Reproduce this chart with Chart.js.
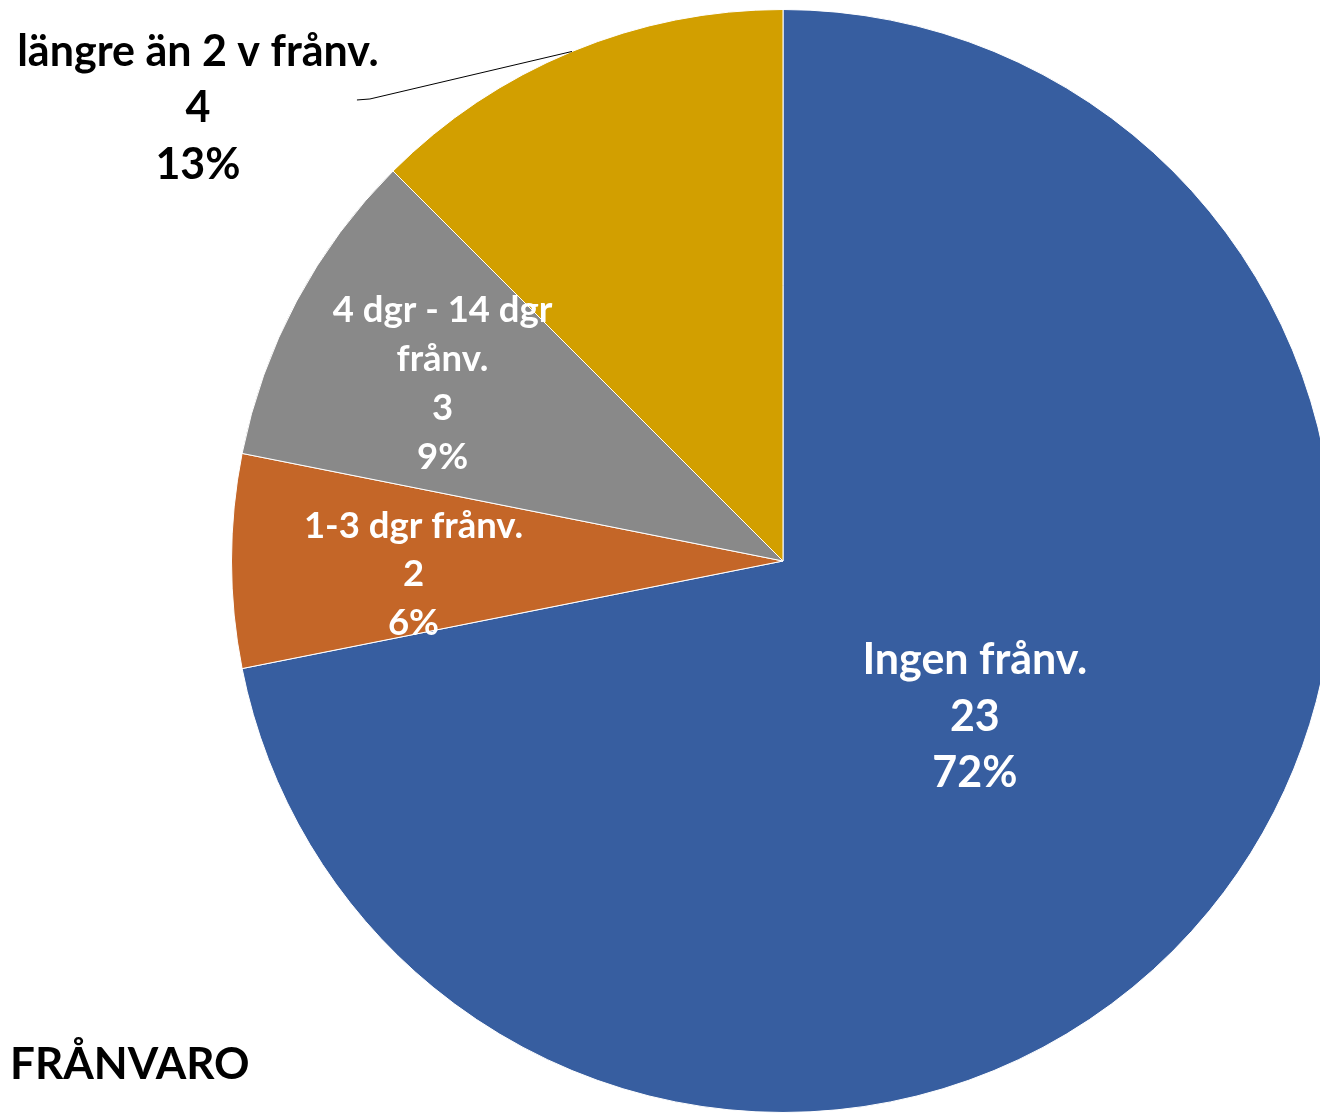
<!DOCTYPE html>
<html>
<head>
<meta charset="utf-8">
<script src="https://cdn.jsdelivr.net/npm/chart.js@4"></script>
<style>
  html, body { margin: 0; padding: 0; background: #fff; overflow: hidden; }
  #frame { position: relative; width: 1320px; height: 1113px; overflow: hidden; }
  #wrap { position: absolute; left: 0; top: 0; width: 1566px; height: 1113px; }
  #title { position: absolute; left: 10px; top: 1036px; font: bold 44px Lato, sans-serif; color: #000; }
</style>
</head>
<body>
<div id="frame">
  <div id="wrap"><canvas id="pie"></canvas></div>
  <div id="title">FRÅNVARO</div>
</div>
<script>
// slices, clockwise from 12 o'clock
const categories = ['Ingen frånv.', '1-3 dgr frånv.', ['4 dgr - 14 dgr', 'frånv.'], 'längre än 2 v frånv.'];
const counts = [23, 2, 3, 4];
const sliceColors = ['#375EA0', '#C46628', '#898989', '#D29F00'];

// label placement per slice: radial fraction, font size, line gap, colour
const labelStyle = [
    { frac: 0.45, size: 43, gap: 56.5, color: '#fff', dy: -3 },
    { frac: 0.67, size: 36.5, gap: 48.5, color: '#fff', dy: 12 },
    { frac: 0.70, size: 36.5, gap: 49, color: '#fff', dy: 3 },
    { outside: true, size: 43, gap: 56.5, color: '#000', elbow: [-202, 47.5], tail: -13, text: [-159, 8] }
];

const total = counts.reduce((a, b) => a + b, 0);

const labelPlugin = {
    id: 'sliceLabels',
    afterDatasetsDraw(chart) {
        const ctx = chart.ctx;
        const meta = chart.getDatasetMeta(0);
        meta.data.forEach((arc, i) => {
            const st = labelStyle[i];
            const p = arc.getProps(['x', 'y', 'startAngle', 'endAngle', 'outerRadius'], true);
            const mid = (p.startAngle + p.endAngle) / 2;
            const name = categories[i];
            const lines = (Array.isArray(name) ? name : [name])
                .concat([String(counts[i]), Math.round(counts[i] / total * 100) + '%']);
            let cx, cy;
            if (st.outside) {
                const ax = p.x + Math.cos(mid) * p.outerRadius;
                const ay = p.y + Math.sin(mid) * p.outerRadius;
                const ex = ax + st.elbow[0], ey = ay + st.elbow[1];
                ctx.save();
                ctx.strokeStyle = '#000';
                ctx.lineWidth = 1;
                ctx.beginPath();
                ctx.moveTo(ax, ay);
                ctx.lineTo(ex, ey);
                ctx.lineTo(ex + st.tail, ey + 1);
                ctx.stroke();
                ctx.restore();
                cx = ex + st.tail + st.text[0];
                cy = ey + st.text[1];
            } else {
                const r = p.outerRadius * st.frac;
                cx = p.x + Math.cos(mid) * r;
                cy = p.y + Math.sin(mid) * r + st.dy;
            }
            ctx.save();
            ctx.fillStyle = st.color;
            ctx.font = 'bold ' + st.size + 'px Lato, sans-serif';
            ctx.textAlign = 'center';
            ctx.textBaseline = 'alphabetic';
            const cap = st.size * 0.72;
            const top = cy - (lines.length - 1) * st.gap / 2;
            lines.forEach((t, k) => {
                ctx.fillText(t, cx, top + k * st.gap + cap / 2);
            });
            ctx.restore();
        });
    }
};

new Chart(document.getElementById('pie'), {
    type: 'pie',
    data: {
        labels: categories,
        datasets: [{
            data: counts,
            backgroundColor: sliceColors,
            borderColor: '#ffffff',
            borderWidth: 1
        }]
    },
    options: {
        responsive: true,
        maintainAspectRatio: false,
        animation: false,
        layout: { padding: { top: 9, bottom: 0, left: 0, right: 0 } },
        plugins: {
            legend: { display: false },
            tooltip: { enabled: false }
        }
    },
    plugins: [labelPlugin]
});
</script>
</body>
</html>
